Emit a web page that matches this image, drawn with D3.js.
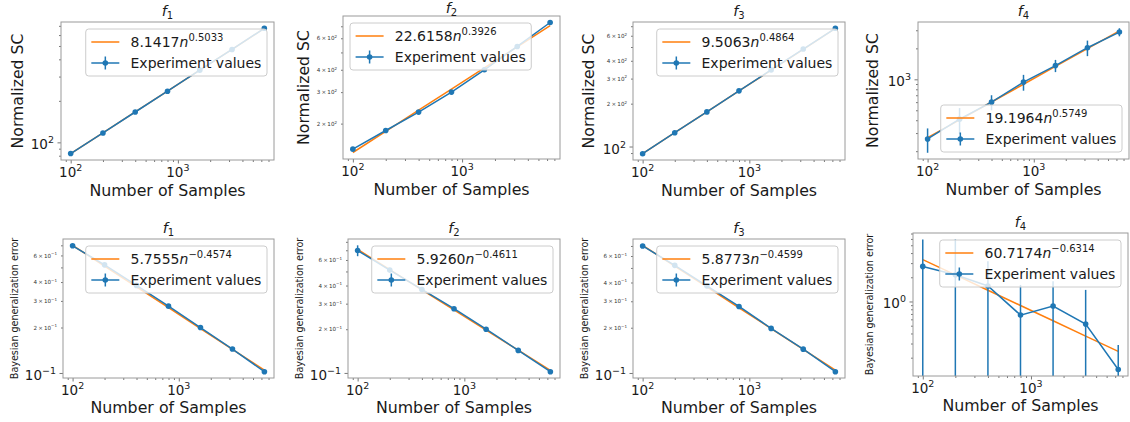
<!DOCTYPE html>
<html>
<head>
<meta charset="utf-8">
<script src="https://cdn.jsdelivr.net/npm/d3@7/dist/d3.min.js"></script>
<style>
  html, body { margin: 0; padding: 0; background: #fff; }
  svg { display: block; font-family: "DejaVu Sans", sans-serif; }
</style>
</head>
<body>
<script>
// ---------------- DATA ----------------
const samples = [100, 200, 400, 800, 1600, 3200, 6400];
const functionIndex = ["1", "2", "3", "4"];

// Normalized SC (top row): experiment values, error bars, fitted power law
const scExp1 = [83, 117, 166, 235, 334, 472, 672];
const scErr1 = [0, 0, 0, 0, 0, 0, 0];
const scFit1 = [82.7, 117.2, 166.1, 235.5, 333.8, 473.1, 670.5];

const scExp2 = [144, 183, 232, 300, 400, 540, 735];
const scErr2 = [0, 0, 0, 0, 0, 0, 0];
const scFit2 = [137.9, 181.1, 237.7, 312.0, 409.6, 537.7, 705.9];

const scExp3 = [89, 125, 175, 246, 345, 484, 677];
const scErr3 = [0, 0, 0, 0, 0, 0, 0];
const scFit3 = [89.3, 125.1, 175.3, 245.5, 343.9, 481.9, 675.2];

const scExp4 = [263, 410, 600, 940, 1360, 2030, 2880];
const scErr4 = [70, 115, 100, 165, 185, 350, 260];
const scFit4 = [270.9, 403.6, 601.4, 895.9, 1334.4, 1987.6, 2960.7];

// Bayesian generalization error (bottom row)
const bgeExp1 = [0.695, 0.52, 0.38, 0.277, 0.200, 0.144, 0.102];
const bgeErr1 = [0, 0, 0, 0, 0, 0, 0];
const bgeFit1 = [0.7002, 0.5100, 0.3714, 0.2705, 0.1970, 0.1434, 0.1045];

const bgeExp2 = [0.697, 0.511, 0.376, 0.277, 0.200, 0.143, 0.102];
const bgeErr2 = [0.06, 0, 0, 0, 0, 0, 0];
const bgeFit2 = [0.7090, 0.5150, 0.3740, 0.2717, 0.1973, 0.1434, 0.1042];

const bgeExp3 = [0.70, 0.52, 0.38, 0.277, 0.198, 0.144, 0.102];
const bgeErr3 = [0, 0, 0, 0, 0, 0, 0];
const bgeFit3 = [0.7070, 0.5140, 0.3736, 0.2716, 0.1975, 0.1436, 0.1044];

const bgeExp4 = [2.73, 2.15, 1.56, 0.677, 0.879, 0.523, 0.1426];
const bgeErr4 = [3.17, 3.75, 1.6, 0.93, 0.9, 0.87, 0.145];
const bgeFit4 = [3.316, 2.140, 1.381, 0.8914, 0.5757, 0.3715, 0.2399];

// Legend labels of the fitted curves: coefficient * n^exponent
const fitCoefficients = ["8.1417", "22.6158", "9.5063", "19.1964", "5.7555", "5.9260", "5.8773", "60.7174"];
const fitExponents = ["0.5033", "0.3926", "0.4864", "0.5749", "\u22120.4574", "\u22120.4611", "\u22120.4599", "\u22120.6314"];

const yAxisTitles = ["Normalized SC", "Bayesian generalization error"];
const xAxisTitle = "Number of Samples";
const experimentLabel = "Experiment values";

// ---------------- LAYOUT ----------------
const W = 1130, H = 422;
const BLUE = "#1f77b4", ORANGE = "#ff7f0e";
const layout = [
  { x0: 61,  x1: 274,  y0: 22,  y1: 160, legend: "ur", ylabX: 17,  ylabSize: 15.7, minorLabels: false },
  { x0: 343, x1: 560,  y0: 16,  y1: 159, legend: "ul", ylabX: 303, ylabSize: 15.7, minorLabels: true },
  { x0: 633, x1: 845,  y0: 22,  y1: 160, legend: "ur", ylabX: 588, ylabSize: 15.7, minorLabels: true },
  { x0: 918, x1: 1129, y0: 22,  y1: 159, legend: "lr", ylabX: 872, ylabSize: 15.7, minorLabels: false },
  { x0: 63,  x1: 274,  y0: 239, y1: 378, legend: "ur", ylabX: 14,  ylabSize: 9.6,  minorLabels: true },
  { x0: 348, x1: 560,  y0: 239, y1: 378, legend: "ur", ylabX: 299, ylabSize: 9.6,  minorLabels: true },
  { x0: 633, x1: 845,  y0: 239, y1: 378, legend: "ur", ylabX: 584, ylabSize: 9.6,  minorLabels: true },
  { x0: 913, x1: 1128, y0: 233, y1: 376, legend: "ur", ylabX: 869, ylabSize: 9.6,  minorLabels: false }
];

const series = [
  { exp: scExp1, err: scErr1, fit: scFit1 },
  { exp: scExp2, err: scErr2, fit: scFit2 },
  { exp: scExp3, err: scErr3, fit: scFit3 },
  { exp: scExp4, err: scErr4, fit: scFit4 },
  { exp: bgeExp1, err: bgeErr1, fit: bgeFit1 },
  { exp: bgeExp2, err: bgeErr2, fit: bgeFit2 },
  { exp: bgeExp3, err: bgeErr3, fit: bgeFit3 },
  { exp: bgeExp4, err: bgeErr4, fit: bgeFit4 }
];

const svg = d3.select("body").append("svg").attr("width", W).attr("height", H);
const defs = svg.append("defs");

function logPad(vals) {
  const lo = Math.log10(d3.min(vals)), hi = Math.log10(d3.max(vals));
  const m = 0.05 * (hi - lo);
  return [Math.pow(10, lo - m), Math.pow(10, hi + m)];
}

function logTicks(domain) {
  const majors = [], minors = [];
  const e0 = Math.floor(Math.log10(domain[0])) - 1, e1 = Math.ceil(Math.log10(domain[1])) + 1;
  for (let e = e0; e <= e1; e++) {
    const b = Math.pow(10, e);
    if (b >= domain[0] && b <= domain[1]) majors.push({ v: b, k: 1, e: e });
    for (let k = 2; k <= 9; k++) {
      const v = k * b;
      if (v >= domain[0] && v <= domain[1]) minors.push({ v: v, k: k, e: e });
    }
  }
  return { majors, minors };
}

function expStr(e) { return e < 0 ? "\u2212" + (-e) : String(e); }

const xDomain = logPad(samples);
const TICK_COLOR = "#555";
const SPINE_COLOR = "#9a9a9a";
const TEXT_COLOR = "#1a1a1a";

layout.forEach((L, i) => {
  const S = series[i];
  const row = i < 4 ? 0 : 1;
  const g = svg.append("g");

  // y domain: values, error-bar ends (positive only), fit line
  const cands = [];
  S.exp.forEach((v, j) => {
    cands.push(v);
    if (S.err[j] > 0) {
      cands.push(v + S.err[j]);
      if (v - S.err[j] > 0) cands.push(v - S.err[j]);
    }
  });
  S.fit.forEach(v => cands.push(v));
  const yDomain = logPad(cands);

  const x = d3.scaleLog().domain(xDomain).range([L.x0, L.x1]);
  const y = d3.scaleLog().domain(yDomain).range([L.y1, L.y0]);

  const clipId = "clip" + i;
  defs.append("clipPath").attr("id", clipId).append("rect")
    .attr("x", L.x0).attr("y", L.y0).attr("width", L.x1 - L.x0).attr("height", L.y1 - L.y0);

  const plot = g.append("g").attr("clip-path", `url(#${clipId})`);

  // fitted curve
  const pts = samples.map((n, j) => ({ n: n, v: S.fit[j] }));
  plot.append("path").datum(pts)
    .attr("fill", "none").attr("stroke", ORANGE).attr("stroke-width", 1.5)
    .attr("d", d3.line().x(d => x(d.n)).y(d => y(d.v)));

  // error bars
  const ebData = samples.map((n, j) => ({ n: n, v: S.exp[j], e: S.err[j] })).filter(d => d.e > 0);
  plot.selectAll("line.eb").data(ebData).enter().append("line")
    .attr("x1", d => x(d.n)).attr("x2", d => x(d.n))
    .attr("y1", d => y(d.v + d.e))
    .attr("y2", d => (d.v - d.e > 0 ? y(d.v - d.e) : L.y1 + 5))
    .attr("stroke", BLUE).attr("stroke-width", 1.5);

  // experiment line + markers
  const ep = samples.map((n, j) => ({ n: n, v: S.exp[j] }));
  plot.append("path").datum(ep)
    .attr("fill", "none").attr("stroke", BLUE).attr("stroke-width", 1.5)
    .attr("d", d3.line().x(d => x(d.n)).y(d => y(d.v)));
  plot.selectAll("circle").data(ep).enter().append("circle")
    .attr("cx", d => x(d.n)).attr("cy", d => y(d.v)).attr("r", 2.8).attr("fill", BLUE);

  // ticks via d3 axes
  const xt = logTicks(xDomain), yt = logTicks(yDomain);
  const mkAxis = (axisFn, scale, vals, size, tx, ty) => {
    const ax = g.append("g").attr("transform", `translate(${tx},${ty})`)
      .call(axisFn(scale).tickValues(vals.map(d => d.v)).tickSize(size).tickFormat(""));
    ax.select(".domain").remove();
    ax.selectAll("line").attr("stroke", TICK_COLOR).attr("stroke-width", 0.8);
  };
  mkAxis(d3.axisBottom, x, xt.majors, 3.5, 0, L.y1);
  mkAxis(d3.axisBottom, x, xt.minors, 2, 0, L.y1);
  mkAxis(d3.axisLeft, y, yt.majors, 3.5, L.x0, 0);
  mkAxis(d3.axisLeft, y, yt.minors, 2, L.x0, 0);

  // x tick labels
  xt.majors.forEach(t => {
    const tx = g.append("text").attr("x", x(t.v)).attr("y", L.y1 + 16.7)
      .attr("text-anchor", "middle").attr("font-size", 13.5).attr("fill", TEXT_COLOR);
    tx.append("tspan").text("10");
    tx.append("tspan").attr("dy", -6).attr("font-size", 9.5).text(expStr(t.e));
  });

  // y tick labels (major)
  yt.majors.forEach(t => {
    const tx = g.append("text").attr("x", L.x0 - 7).attr("y", y(t.v) + 7)
      .attr("text-anchor", "end").attr("font-size", 13.5).attr("fill", TEXT_COLOR);
    tx.append("tspan").text("10");
    tx.append("tspan").attr("dy", -6).attr("font-size", 9.5).text(expStr(t.e));
  });
  // y tick labels (minor subset)
  if (L.minorLabels) {
    yt.minors.filter(t => [2, 3, 4, 6].includes(t.k)).forEach(t => {
      const tx = g.append("text").attr("x", L.x0 - 6).attr("y", y(t.v) + 2.2)
        .attr("text-anchor", "end").attr("font-size", 5.6).attr("fill", "#333");
      tx.append("tspan").text(t.k + "\u2009\u00d7\u200910");
      tx.append("tspan").attr("dy", -2.3).attr("font-size", 4).text(expStr(t.e));
    });
  }

  // spines
  g.append("rect").attr("x", L.x0).attr("y", L.y0)
    .attr("width", L.x1 - L.x0).attr("height", L.y1 - L.y0)
    .attr("fill", "none").attr("stroke", SPINE_COLOR).attr("stroke-width", 1);

  // title f_k
  const title = g.append("text").attr("x", (L.x0 + L.x1) / 2).attr("y", Math.max(L.y0 - 6, 13))
    .attr("text-anchor", "middle").attr("font-size", 14.5).attr("fill", TEXT_COLOR);
  title.append("tspan").attr("font-style", "italic").text("f");
  title.append("tspan").attr("dy", 3).attr("font-size", 10).text(functionIndex[i % 4]);

  // axis titles
  g.append("text").attr("x", (L.x0 + L.x1) / 2).attr("y", L.y1 + (row === 0 ? 36 : 34.5))
    .attr("text-anchor", "middle").attr("font-size", 15.8).attr("fill", TEXT_COLOR).text(xAxisTitle);
  g.append("text")
    .attr("transform", `translate(${L.ylabX},${(L.y0 + L.y1) / 2}) rotate(-90)`)
    .attr("text-anchor", "middle").attr("dominant-baseline", "central")
    .attr("font-size", L.ylabSize).attr("fill", TEXT_COLOR).text(yAxisTitles[row]);

  // legend
  const fs = 14, pad = 5.6, hl = 28, hp = 11.2;
  const lg = g.append("g");
  const bg = lg.append("rect");
  const t1 = lg.append("text").attr("font-size", fs).attr("fill", TEXT_COLOR);
  t1.append("tspan").text(fitCoefficients[i]);
  t1.append("tspan").attr("font-style", "italic").text("n");
  t1.append("tspan").attr("dy", -6.5).attr("font-size", 10).text(fitExponents[i]);
  const t2 = lg.append("text").attr("font-size", fs).attr("fill", TEXT_COLOR).text(experimentLabel);
  const tw = Math.max(t1.node().getComputedTextLength(), t2.node().getComputedTextLength());
  const lw = pad + hl + hp + tw + pad, lh = 47;
  let lx, ly;
  if (L.legend === "ur") { lx = L.x1 - 7 - lw; ly = L.y0 + 7; }
  else if (L.legend === "ul") { lx = L.x0 + 7; ly = L.y0 + 7; }
  else { lx = L.x1 - 7 - lw; ly = L.y1 - 7 - lh; }
  bg.attr("x", lx).attr("y", ly).attr("width", lw).attr("height", lh).attr("rx", 3)
    .attr("fill", "#fff").attr("fill-opacity", 0.8).attr("stroke", "#cccccc").attr("stroke-width", 1);
  const r1 = ly + 13, r2 = ly + 34;
  t1.attr("x", lx + pad + hl + hp).attr("y", r1 + 5);
  t2.attr("x", lx + pad + hl + hp).attr("y", r2 + 5);
  lg.append("line").attr("x1", lx + pad).attr("x2", lx + pad + hl).attr("y1", r1).attr("y2", r1)
    .attr("stroke", ORANGE).attr("stroke-width", 1.5);
  lg.append("line").attr("x1", lx + pad).attr("x2", lx + pad + hl).attr("y1", r2).attr("y2", r2)
    .attr("stroke", BLUE).attr("stroke-width", 1.5);
  lg.append("line").attr("x1", lx + pad + hl / 2).attr("x2", lx + pad + hl / 2)
    .attr("y1", r2 - 6.5).attr("y2", r2 + 6.5).attr("stroke", BLUE).attr("stroke-width", 1.5);
  lg.append("circle").attr("cx", lx + pad + hl / 2).attr("cy", r2).attr("r", 2.8).attr("fill", BLUE);
});
</script>
</body>
</html>
